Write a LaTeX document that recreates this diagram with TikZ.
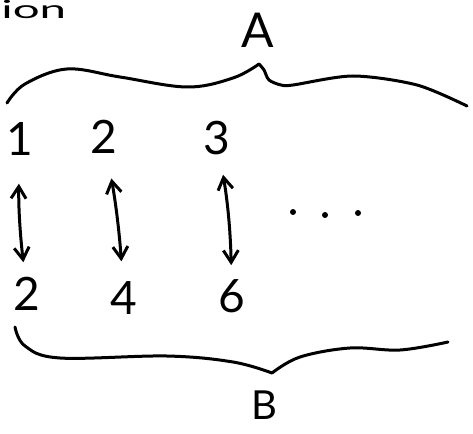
\documentclass[tikz,border=0pt]{standalone}
\usepackage{fontspec}
\setmainfont{Lato}
\usetikzlibrary{arrows.meta}
\begin{document}
\begin{tikzpicture}[x=1pt,y=-1pt,
  ink/.style={line width=3pt, line cap=round, line join=round},
  digit/.style={inner sep=0pt, font=\fontsize{46}{46}\selectfont},
  dotmark/.style={circle, fill=black, inner sep=0pt, minimum size=6pt},
  pair/.style={ink, {Straight Barb[length=12pt,width=15pt]}-{Straight Barb[length=12pt,width=15pt]}}]
\useasboundingbox (0,0) rectangle (473,433);
\clip (0,0) rectangle (473,433);

% partial word in the corner
\node[anchor=base west, inner sep=0pt, font=\fontsize{25}{25}\selectfont,
      xscale=1.9, transform shape] (ion) at (1,19) {ion};

% set labels
\node[inner sep=0pt, font=\fontsize{48}{48}\selectfont] (A) at (258,30) {A};
\node[inner sep=0pt, font=\fontsize{40}{40}\selectfont] (B) at (264,405) {B};

% top row
\node[digit] (t1) at (20,139) {1};
\node[digit] (t2) at (104,137) {2};
\node[digit] (t3) at (217,138) {3};

% bottom row
\node[digit] (b1) at (27,294) {2};
\node[digit] (b2) at (124,298) {4};
\node[digit] (b3) at (232,296) {6};

% ellipsis
\node[dotmark] (d1) at (293,212) {};
\node[dotmark] (d2) at (325,215) {};
\node[dotmark] (d3) at (358,213) {};

% correspondences
\draw[pair, shorten <=28pt, shorten >=15pt] (t1) to[bend right=4] (b1);
\draw[pair, shorten <=25pt, shorten >=20pt] (t2) to[bend left=3] (b2);
\draw[pair, shorten <=20pt, shorten >=14pt] (t3) to[bend left=4] (b3);

% brace over the top row
\draw[ink] plot[smooth, tension=0.6] coordinates
  {(7,103) (25,84) (67,69) (120,77) (187,87) (233,78) (259,64)};
\draw[ink] plot[smooth, tension=0.5] coordinates
  {(259,64) (264,70) (269,80) (281,85) (293,85) (353,76) (417,85) (467,106)};

% brace under the bottom row
\draw[ink] plot[smooth, tension=0.6] coordinates
  {(15,327) (25,346) (60,358) (167,356) (233,362) (272,373)};
\draw[ink] plot[smooth, tension=0.6] coordinates
  {(272,373) (300,357) (350,348) (400,350) (448,342)};
\end{tikzpicture}
\end{document}
